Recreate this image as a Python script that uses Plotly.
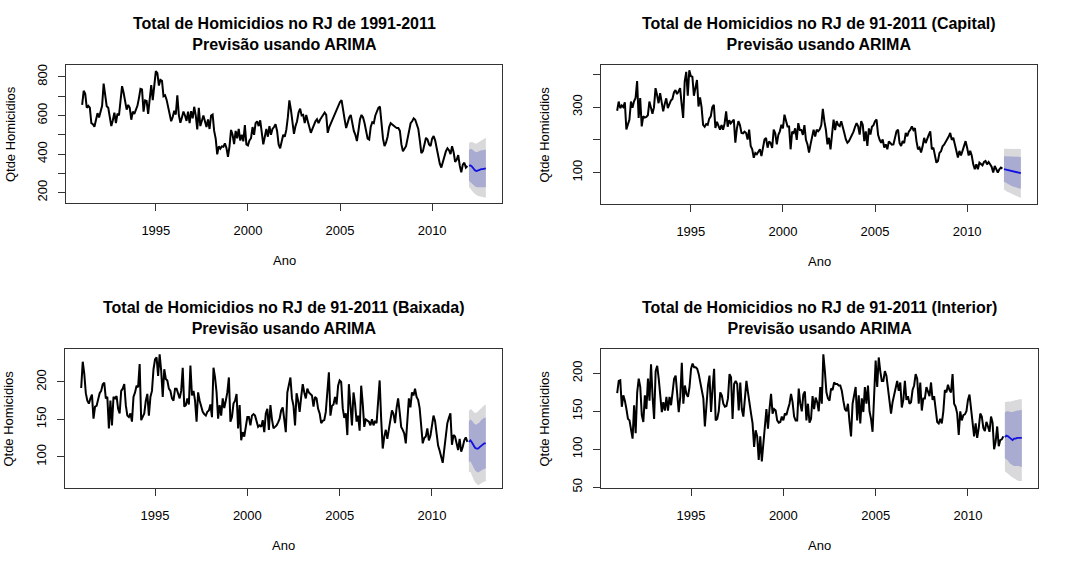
import plotly.graph_objects as go

W, H = 1071, 573

# monthly series, Jan 1991 .. Dec 2011 (one row per year)
total_rj = [
    655, 728, 712, 640, 650, 640, 560, 555, 542, 580, 612, 590,
    628, 650, 765, 700, 648, 640, 598, 545, 575, 615, 560, 610,
    600, 690, 752, 718, 680, 630, 655, 640, 578, 620, 608, 628,
    650, 690, 738, 735, 620, 678, 675, 608, 705, 758, 680, 752,
    830, 820, 755, 785, 780, 700, 705, 682, 640, 600, 570, 592,
    625, 605, 705, 602, 562, 590, 620, 600, 572, 620, 560, 622,
    585, 645, 600, 528, 640, 545, 575, 600, 570, 540, 580, 530,
    600, 605, 520, 480, 398, 440, 428, 440, 438, 455, 432, 385,
    440, 525, 500, 452, 520, 482, 530, 470, 500, 466, 550, 450,
    445, 470, 482, 540, 500, 560, 570, 545, 575, 520, 450, 490,
    530, 490, 545, 500, 530, 540, 555, 520, 450, 430, 470, 500,
    490, 525, 590, 678, 630, 560, 505, 545, 570, 615, 635, 600,
    603, 560, 603, 570, 540, 510, 530, 555, 570, 580, 560, 578,
    590, 605, 615, 603, 510, 540, 560, 575, 590, 610, 640, 660,
    670, 680, 640, 580, 535, 570, 590, 603, 560, 520, 500, 467,
    520, 580, 603, 590, 560, 520, 480, 475, 540, 565, 560, 600,
    620, 640, 646, 560, 480, 441, 460, 490, 540, 560, 552, 545,
    540, 535, 535, 520, 450, 415, 430, 441, 480, 530, 560, 570,
    585, 578, 550, 530, 470, 405, 415, 450, 484, 475, 450, 441,
    480, 493, 470, 430, 381, 350, 330, 360, 400, 415, 430, 420,
    400, 441, 410, 360, 370, 395, 340, 305, 345, 355, 330, 338,
]
capital = [
    289, 317, 297, 305, 300, 315, 232, 245, 262, 317, 298, 318,
    328, 380, 267, 328, 241, 272, 268, 270, 275, 317, 300, 280,
    300, 358, 337, 312, 343, 308, 287, 310, 327, 297, 310, 320,
    325, 345, 352, 340, 348, 358, 310, 267, 378, 408, 335, 413,
    395, 393, 335, 355, 383, 302, 330, 300, 246, 240, 248, 246,
    265, 272, 300, 307, 236, 255, 240, 231, 245, 231, 250, 287,
    240, 260, 250, 255, 262, 191, 235, 257, 245, 221, 220, 225,
    221, 201, 231, 181, 171, 145, 160, 156, 165, 171, 150, 180,
    201, 206, 176, 195, 190, 175, 231, 220, 186, 215, 226, 246,
    235, 277, 255, 241, 241, 171, 225, 221, 235, 200, 251, 230,
    230, 215, 245, 200, 186, 161, 186, 211, 231, 210, 231, 226,
    232, 245, 295, 257, 230, 186, 206, 171, 231, 262, 230, 257,
    245, 242, 257, 242, 221, 201, 191, 196, 205, 215, 225, 240,
    251, 241, 216, 257, 246, 196, 226, 181, 235, 216, 240, 245,
    257, 262, 215, 200, 191, 201, 176, 186, 171, 195, 190, 185,
    186, 210, 226, 231, 190, 181, 196, 190, 221, 211, 225, 231,
    241, 230, 236, 196, 171, 176, 161, 180, 206, 190, 200, 215,
    226, 171, 176, 156, 130, 135, 160, 165, 180, 185, 193, 200,
    210, 221, 200, 206, 186, 157, 146, 166, 152, 166, 185, 196,
    176, 152, 166, 152, 125, 110, 125, 110, 130, 127, 122, 132,
    135, 125, 132, 125, 117, 100, 120, 110, 100, 110, 115, 112,
]
baixada = [
    192, 227, 211, 185, 175, 171, 178, 183, 151, 167, 168, 178,
    185, 188, 197, 199, 178, 180, 138, 175, 142, 180, 178, 181,
    164, 158, 188, 191, 197, 169, 155, 153, 158, 147, 180, 186,
    195, 193, 224, 149, 155, 158, 175, 184, 155, 180, 188, 217,
    230, 233, 208, 237, 215, 180, 217, 204, 202, 191, 188, 178,
    175, 191, 191, 185, 178, 188, 219, 167, 169, 178, 170, 222,
    182, 188, 175, 147, 186, 175, 167, 160, 157, 155, 160, 162,
    170, 153, 219, 206, 186, 151, 169, 155, 178, 165, 175, 186,
    206, 147, 153, 171, 175, 184, 138, 169, 122, 133, 127, 140,
    153, 153, 142, 155, 157, 155, 147, 140, 142, 140, 149, 133,
    158, 164, 136, 169, 150, 138, 140, 142, 146, 151, 162, 166,
    150, 133, 186, 195, 206, 178, 168, 142, 185, 175, 160, 180,
    197, 186, 178, 191, 186, 184, 182, 167, 180, 178, 164, 158,
    145, 148, 149, 160, 195, 213, 155, 168, 170, 180, 170, 195,
    202, 200, 165, 152, 158, 129, 197, 171, 142, 186, 171, 147,
    155, 135, 195, 171, 140, 150, 149, 147, 142, 150, 142, 148,
    145, 170, 202, 150, 111, 127, 136, 124, 136, 145, 162, 157,
    145, 165, 178, 160, 140, 136, 131, 118, 147, 178, 166, 186,
    182, 191, 180, 176, 165, 138, 118, 125, 127, 138, 122, 128,
    142, 155, 148, 131, 115, 108, 98, 92, 110, 133, 145, 152,
    158, 116, 129, 127, 116, 109, 124, 107, 113, 122, 126, 120,
]
interior = [
    174, 190, 191, 156, 171, 164, 153, 140, 138, 127, 114, 158,
    121, 175, 193, 182, 145, 136, 171, 153, 193, 164, 212, 169,
    140, 203, 210, 193, 164, 149, 162, 151, 169, 151, 169, 158,
    175, 193, 197, 167, 149, 169, 214, 160, 184, 173, 169, 182,
    206, 213, 208, 208, 206, 199, 188, 176, 167, 130, 164, 184,
    197, 149, 180, 206, 138, 140, 150, 175, 171, 160, 156, 157,
    167, 199, 195, 140, 186, 190, 186, 151, 188, 153, 143, 164,
    190, 175, 158, 147, 134, 103, 125, 117, 86, 117, 84, 103,
    130, 153, 127, 153, 173, 147, 153, 151, 138, 135, 136, 143,
    138, 147, 145, 153, 160, 173, 162, 143, 138, 138, 180, 160,
    150, 172, 176, 138, 160, 135, 140, 170, 153, 168, 162, 150,
    182, 160, 225, 203, 175, 167, 164, 180, 178, 188, 186, 186,
    184, 184, 177, 164, 153, 150, 160, 136, 117, 160, 170, 182,
    138, 171, 134, 167, 149, 182, 160, 184, 150, 140, 123, 180,
    217, 182, 221, 203, 190, 190, 203, 197, 180, 160, 147, 162,
    170, 182, 190, 177, 188, 155, 165, 190, 165, 170, 160, 162,
    178, 184, 199, 193, 160, 188, 151, 167, 167, 182, 174, 170,
    188, 165, 170, 153, 136, 134, 140, 134, 150, 178, 175, 185,
    178, 175, 199, 160, 156, 147, 119, 150, 138, 145, 146, 150,
    165, 172, 155, 134, 117, 134, 115, 128, 147, 143, 128, 124,
    136, 130, 123, 143, 135, 100, 110, 130, 104, 112, 113, 117,
]

# ARIMA forecasts for Jan..Dec 2012: mean, 80% and 95% limits
total_fc = [340, 341, 335, 325, 315, 312, 316, 320, 322, 322, 324, 326]
total_lo80 = [262, 255, 248, 240, 232, 228, 228, 228, 228, 228, 228, 228]
total_hi80 = [420, 428, 425, 418, 412, 410, 414, 418, 420, 420, 422, 424]
total_lo95 = [230, 220, 210, 200, 192, 186, 182, 180, 178, 176, 175, 174]
total_hi95 = [455, 462, 462, 458, 455, 455, 460, 465, 470, 475, 480, 484]

capital_fc = [110, 109, 108, 107, 105, 104, 103, 102, 101, 100, 99, 98]
capital_lo80 = [72, 69, 66, 63, 61, 59, 57, 55, 54, 52, 51, 50]
capital_hi80 = [150, 150, 150, 150, 149, 149, 149, 149, 148, 148, 148, 147]
capital_lo95 = [48, 45, 42, 39, 36, 34, 32, 30, 28, 26, 24, 22]
capital_hi95 = [173, 173, 173, 173, 173, 173, 173, 173, 173, 173, 172, 172]

baixada_fc = [120, 122, 119, 115, 112, 111, 111, 113, 115, 117, 118, 118]
baixada_lo80 = [93, 94, 90, 86, 82, 80, 79, 80, 82, 83, 84, 84]
baixada_hi80 = [147, 150, 148, 145, 143, 143, 144, 146, 149, 151, 152, 152]
baixada_lo95 = [79, 80, 75, 70, 66, 64, 62, 63, 64, 66, 67, 67]
baixada_hi95 = [161, 164, 163, 160, 159, 159, 161, 163, 166, 168, 169, 170]

interior_fc = [116, 118, 117, 115, 113, 112, 114, 114, 115, 115, 115, 115]
interior_lo80 = [88, 87, 85, 82, 80, 79, 78, 78, 78, 78, 77, 77]
interior_hi80 = [148, 150, 150, 149, 149, 149, 150, 150, 151, 151, 152, 152]
interior_lo95 = [71, 70, 68, 66, 64, 62, 61, 60, 59, 58, 58, 58]
interior_hi95 = [162, 163, 163, 163, 163, 164, 164, 165, 165, 166, 166, 166]

titles = [
    "Total de Homicidios no RJ de 1991-2011",
    "Total de Homicidios no RJ de 91-2011 (Capital)",
    "Total de Homicidios no RJ de 91-2011 (Baixada)",
    "Total de Homicidios no RJ de 91-2011 (Interior)",
]
subtitle = "Previsão usando ARIMA"
year_ticks = [1995, 2000, 2005, 2010]

months = [1991 + i / 12 for i in range(len(total_rj))]
fc_months = [2012 + i / 12 for i in range(12)]

panels = [
    dict(y=total_rj, fc=total_fc, lo80=total_lo80, hi80=total_hi80, lo95=total_lo95, hi95=total_hi95,
         yrange=[147, 860], yticks=[200, 300, 400, 500, 600, 700, 800],
         ylabels=["200", "", "400", "", "600", "", "800"],
         box=(66, 502, 65, 204)),
    dict(y=capital, fc=capital_fc, lo80=capital_lo80, hi80=capital_hi80, lo95=capital_lo95, hi95=capital_hi95,
         yrange=[4, 428], yticks=[100, 200, 300, 400], ylabels=["100", "", "300", ""],
         box=(601, 1037, 65, 205)),
    dict(y=baixada, fc=baixada_fc, lo80=baixada_lo80, hi80=baixada_hi80, lo95=baixada_lo95, hi95=baixada_hi95,
         yrange=[58.5, 243.6], yticks=[100, 150, 200], ylabels=["100", "150", "200"],
         box=(65, 502, 352, 492)),
    dict(y=interior, fc=interior_fc, lo80=interior_lo80, hi80=interior_hi80, lo95=interior_lo95, hi95=interior_hi95,
         yrange=[49.1, 231.7], yticks=[50, 100, 150, 200], ylabels=["50", "100", "150", "200"],
         box=(601, 1038, 352, 492)),
]

FONT = "Liberation Sans, Arial, Helvetica, sans-serif"
LINE = "#333333"


def px(sx):
    return sx / W


def py(sy):
    return 1 - sy / H


fig = go.Figure()
annotations = []
layout = {}

for k, p in enumerate(panels):
    n = "" if k == 0 else str(k + 1)
    xa, ya = "x" + n, "y" + n
    x0, x1, y0, y1 = p["box"]

    # 95% band, then 80% band
    fig.add_trace(go.Scatter(x=fc_months + fc_months[::-1], y=p["hi95"] + p["lo95"][::-1],
                             fill="toself", fillcolor="#D9D9DC", line=dict(width=0),
                             mode="lines", hoverinfo="skip", showlegend=False, xaxis=xa, yaxis=ya))
    fig.add_trace(go.Scatter(x=fc_months + fc_months[::-1], y=p["hi80"] + p["lo80"][::-1],
                             fill="toself", fillcolor="#AAABD0", line=dict(width=0),
                             mode="lines", hoverinfo="skip", showlegend=False, xaxis=xa, yaxis=ya))
    fig.add_trace(go.Scatter(x=months, y=p["y"], mode="lines", line=dict(color="black", width=2),
                             showlegend=False, xaxis=xa, yaxis=ya))
    fig.add_trace(go.Scatter(x=fc_months, y=p["fc"], mode="lines", line=dict(color="#1010E0", width=1.8),
                             showlegend=False, xaxis=xa, yaxis=ya))

    common = dict(showgrid=False, zeroline=False, showline=True, mirror=True, linecolor=LINE,
                  linewidth=1, ticks="outside", ticklen=7, tickcolor=LINE, tickwidth=1,
                  tickfont=dict(family=FONT, size=13, color="black"))
    layout["xaxis" + n] = dict(common, domain=[px(x0), px(x1)], range=[1990.123, 2013.794],
                               tickmode="array", tickvals=year_ticks, anchor=ya, ticklabelstandoff=9)
    layout["yaxis" + n] = dict(common, domain=[py(y1), py(y0)], range=p["yrange"],
                               tickmode="array", tickvals=p["yticks"], ticktext=p["ylabels"],
                               tickangle=-90, anchor=xa, ticklabelstandoff=6)

    cx = px((x0 + x1) / 2)
    annotations.append(dict(text="<b>" + titles[k] + "</b><br><b>" + subtitle + "</b>",
                            x=cx, y=py(y0 - 31.5), xref="paper", yref="paper",
                            showarrow=False, xanchor="center", yanchor="middle",
                            font=dict(family=FONT, size=16, color="black")))
    annotations.append(dict(text="Ano", x=cx, y=py(y1 + 58), xref="paper", yref="paper",
                            showarrow=False, xanchor="center", yanchor="middle",
                            font=dict(family=FONT, size=13, color="black")))
    annotations.append(dict(text="Qtde Homicidios", x=px(x0 - 56), y=py((y0 + y1) / 2),
                            xref="paper", yref="paper", textangle=-90, showarrow=False,
                            xanchor="center", yanchor="middle",
                            font=dict(family=FONT, size=13, color="black")))

fig.update_layout(width=W, height=H, margin=dict(l=0, r=0, t=0, b=0),
                  paper_bgcolor="white", plot_bgcolor="white",
                  annotations=annotations, **layout)

# drop the page's default 8px body margin so the figure sits at the window corner
fig.write_html("out.html", config={"displayModeBar": False},
               post_script="document.body.style.margin='0';")
